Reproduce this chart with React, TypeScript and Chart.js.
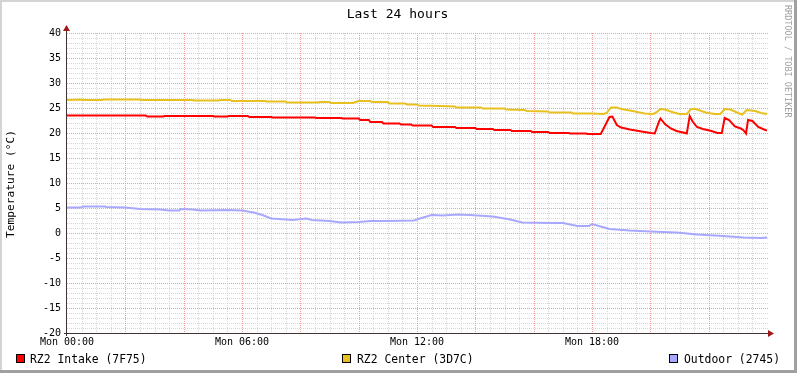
import React, { useEffect, useRef } from 'react';
import { Chart, registerables } from 'chart.js';

Chart.register(...registerables);

const FONT = '"DejaVu Sans Mono", "Liberation Mono", monospace';

const chartTitle = 'Last 24 hours';
const yAxisTitle = 'Temperature (°C)';
const watermark = 'RRDTOOL / TOBI OETIKER';

const seriesLabels = ['RZ2 Intake (7F75)', 'RZ2 Center (3D7C)', 'Outdoor (2745)'];
const seriesColors = ['#FF0000', '#E8C020', '#A8A8FF'];

const xTickLabels = ['Mon 00:00', 'Mon 06:00', 'Mon 12:00', 'Mon 18:00'];
const xLabelEvery = 6; // hours
const xMajorEvery = 2; // hours
const xMinorStep = 0.5; // hours
const yLabelEvery = 5; // °C
const yMinorStep = 1; // °C

// RZ2 Intake (hours since Mon 00:00, °C)
const intakeHours = [0, 2.7, 2.75, 3.3, 3.35, 5.0, 5.05, 5.5, 5.55, 6.2, 6.25, 7.0, 7.05, 8.5, 8.55, 9.4, 9.45, 10.0, 10.05, 10.35, 10.4, 10.8, 10.85, 11.4, 11.45, 11.8, 11.85, 12.5, 12.55, 13.3, 13.35, 14.0, 14.05, 14.6, 14.65, 15.2, 15.25, 15.9, 15.95, 16.5, 16.55, 17.2, 17.25, 17.8, 17.85, 18.3, 18.45, 18.6, 18.7, 18.85, 19.0, 19.3, 19.7, 20.0, 20.15, 20.3, 20.35, 20.5, 20.7, 20.9, 21.2, 21.25, 21.35, 21.45, 21.6, 21.8, 22.1, 22.3, 22.45, 22.55, 22.7, 22.9, 23.1, 23.2, 23.28, 23.35, 23.5, 23.7, 23.9, 24.0];
const intakeTemps = [23.5, 23.5, 23.3, 23.3, 23.4, 23.4, 23.3, 23.3, 23.4, 23.4, 23.2, 23.2, 23.1, 23.1, 23.0, 23.0, 22.9, 22.9, 22.6, 22.6, 22.2, 22.2, 21.9, 21.9, 21.7, 21.7, 21.5, 21.5, 21.2, 21.2, 21.0, 21.0, 20.8, 20.8, 20.6, 20.6, 20.4, 20.4, 20.2, 20.2, 20.0, 20.0, 19.9, 19.9, 19.8, 19.8, 21.5, 23.2, 23.3, 21.6, 21.1, 20.7, 20.3, 20.0, 19.9, 22.3, 22.9, 21.8, 20.9, 20.4, 20.0, 19.9, 23.4, 22.3, 21.2, 20.8, 20.4, 20.0, 20.0, 23.0, 22.6, 21.3, 20.9, 20.5, 19.9, 22.6, 22.4, 21.2, 20.7, 20.5];

// RZ2 Center
const centerHours = [0, 0.5, 0.55, 1.2, 1.25, 2.5, 2.55, 4.3, 4.35, 5.2, 5.25, 5.6, 5.65, 6.8, 6.85, 7.5, 7.55, 8.6, 8.65, 9.0, 9.05, 9.8, 10.0, 10.4, 10.45, 11.0, 11.05, 11.6, 11.65, 12.0, 12.05, 12.8, 13.3, 13.35, 14.2, 14.25, 15.0, 15.05, 15.7, 15.75, 16.5, 16.55, 17.3, 17.35, 18.0, 18.4, 18.5, 18.65, 18.85, 19.0, 19.4, 19.8, 20.1, 20.2, 20.35, 20.5, 20.8, 21.0, 21.25, 21.4, 21.55, 21.9, 22.2, 22.4, 22.55, 22.75, 23.0, 23.15, 23.3, 23.45, 23.6, 23.8, 24.0];
const centerTemps = [26.6, 26.7, 26.6, 26.6, 26.7, 26.7, 26.6, 26.6, 26.5, 26.5, 26.6, 26.6, 26.4, 26.4, 26.3, 26.3, 26.1, 26.1, 26.2, 26.2, 26.0, 26.0, 26.4, 26.4, 26.2, 26.2, 25.9, 25.9, 25.7, 25.7, 25.5, 25.4, 25.3, 25.1, 25.1, 24.9, 24.9, 24.7, 24.6, 24.4, 24.3, 24.1, 24.1, 23.9, 23.9, 23.8, 24.0, 25.1, 25.1, 24.8, 24.4, 23.9, 23.8, 24.1, 24.8, 24.7, 24.1, 23.8, 23.8, 24.8, 24.8, 24.1, 23.8, 23.8, 24.8, 24.7, 24.0, 23.7, 24.6, 24.5, 24.4, 24.0, 23.8];

// Outdoor
const outdoorHours = [0, 0.5, 0.55, 1.3, 1.35, 2.0, 2.5, 3.2, 3.5, 3.85, 3.9, 4.3, 4.6, 5.5, 6.0, 6.4, 6.7, 7.0, 7.75, 8.2, 8.4, 9.0, 9.4, 10.0, 10.4, 11.0, 11.9, 12.1, 12.5, 12.9, 13.4, 13.8, 14.6, 15.2, 15.6, 16.6, 17.0, 17.5, 17.9, 18.0, 18.3, 18.6, 19.3, 20.0, 20.9, 21.6, 22.5, 23.2, 23.8, 24.0];
const outdoorTemps = [5.1, 5.1, 5.3, 5.3, 5.2, 5.1, 4.8, 4.7, 4.5, 4.5, 4.8, 4.7, 4.5, 4.6, 4.5, 4.1, 3.6, 2.9, 2.6, 2.9, 2.6, 2.4, 2.1, 2.2, 2.4, 2.4, 2.5, 2.9, 3.6, 3.5, 3.7, 3.6, 3.3, 2.7, 2.1, 2.0, 2.0, 1.4, 1.4, 1.8, 1.3, 0.8, 0.5, 0.3, 0.1, -0.3, -0.6, -0.9, -1.0, -0.9];

const seriesHours = [intakeHours, centerHours, outdoorHours];
const seriesTemps = [intakeTemps, centerTemps, outdoorTemps];

const MAJOR_GRID = '#F29C9C';
const MINOR_GRID = '#D6D6D6';
const AXIS_COLOR = '#403434';
const ARROW_COLOR = '#A01818';

const near = (v: number, every: number) => Math.abs(v / every - Math.round(v / every)) < 1e-6;

const rrdPlugin = {
  id: 'rrdDecor',
  beforeDraw(chart: any) {
    const { ctx, width, height } = chart;
    ctx.save();
    ctx.fillStyle = '#FFFFFF';
    ctx.fillRect(0, 0, width, height);
    ctx.fillStyle = '#D4D4D4';
    ctx.fillRect(0, 0, width, 2);
    ctx.fillRect(0, 0, 2, height);
    ctx.fillStyle = '#A0A0A0';
    ctx.fillRect(width - 3, 0, 3, height);
    ctx.fillRect(0, height - 3, width, 3);
    ctx.restore();
  },
  beforeDatasetsDraw(chart: any) {
    const { ctx, chartArea, scales } = chart;
    const { left, right, top, bottom } = chartArea;
    const xs = scales.x;
    const ys = scales.y;
    const L = Math.round(left), R = Math.round(right), T = Math.round(top), B = Math.round(bottom);
    ctx.save();
    const drawPass = (major: boolean) => {
      ctx.fillStyle = major ? MAJOR_GRID : MINOR_GRID;
      for (let v = ys.min; v <= ys.max + 1e-9; v += yMinorStep) {
        if (near(v, yLabelEvery) !== major) continue;
        const py = Math.round(ys.getPixelForValue(v));
        if (py >= B) continue;
        for (let x = L; x <= R; x += 2) ctx.fillRect(x, py, 1, 1);
      }
      for (let v = xs.min; v < xs.max - 1e-9; v += xMinorStep) {
        if (near(v, xMajorEvery) !== major) continue;
        const px = Math.round(xs.getPixelForValue(v));
        if (px <= L) continue;
        for (let y = B; y >= T; y -= 2) ctx.fillRect(px, y, 1, 1);
      }
    };
    drawPass(false);
    drawPass(true);
    ctx.restore();
  },
  afterDraw(chart: any) {
    const { ctx, chartArea } = chart;
    const { left, right, top, bottom } = chartArea;
    ctx.save();
    ctx.fillStyle = AXIS_COLOR;
    ctx.fillRect(Math.round(left) - 1, top - 4, 1, bottom - top + 7);
    ctx.fillRect(left - 3, Math.round(bottom), right - left + 5, 1);
    ctx.fillStyle = ARROW_COLOR;
    ctx.beginPath();
    ctx.moveTo(right + 1, bottom - 3);
    ctx.lineTo(right + 7, bottom + 0.5);
    ctx.lineTo(right + 1, bottom + 4);
    ctx.closePath();
    ctx.fill();
    ctx.beginPath();
    ctx.moveTo(left - 4, top - 2);
    ctx.lineTo(left - 0.5, top - 8);
    ctx.lineTo(left + 3, top - 2);
    ctx.closePath();
    ctx.fill();

    ctx.fillStyle = '#000000';
    ctx.font = `13px ${FONT}`;
    ctx.textAlign = 'center';
    ctx.textBaseline = 'alphabetic';
    ctx.fillText(chartTitle, 397.5, 18);

    ctx.save();
    ctx.translate(14, 184);
    ctx.rotate(-Math.PI / 2);
    ctx.font = `11.2px ${FONT}`;
    ctx.textAlign = 'center';
    ctx.fillText(yAxisTitle, 0, 0);
    ctx.restore();

    ctx.save();
    ctx.translate(785, 5);
    ctx.rotate(Math.PI / 2);
    ctx.font = `8.5px ${FONT}`;
    ctx.fillStyle = '#A0A0A0';
    ctx.textAlign = 'left';
    ctx.fillText(watermark, 0, 0);
    ctx.restore();

    const boxX = [16, 342, 669];
    const textX = [30, 357, 684];
    ctx.font = `11.4px ${FONT}`;
    ctx.textAlign = 'left';
    chart.data.datasets.forEach((ds: any, i: number) => {
      ctx.fillStyle = ds.borderColor;
      ctx.fillRect(boxX[i], 354, 9, 9);
      ctx.strokeStyle = '#000000';
      ctx.lineWidth = 1;
      ctx.strokeRect(boxX[i] + 0.5, 354.5, 8, 8);
      ctx.fillStyle = '#000000';
      ctx.fillText(ds.label, textX[i], 363);
    });
    ctx.restore();
  },
};

export default function App() {
  const canvasRef = useRef<HTMLCanvasElement | null>(null);

  useEffect(() => {
    if (!canvasRef.current) return;
    const datasets = seriesLabels.map((label, i) => ({
      label,
      data: seriesHours[i].map((h, j) => ({ x: h, y: seriesTemps[i][j] })),
      borderColor: seriesColors[i],
      backgroundColor: seriesColors[i],
      borderWidth: 2,
      pointRadius: 0,
      fill: false,
      tension: 0,
    }));

    const chart = new Chart(canvasRef.current, {
      type: 'line',
      data: { datasets },
      options: {
        responsive: false,
        animation: false,
        devicePixelRatio: 1,
        layout: { padding: { left: 0, right: 30, top: 33, bottom: 0 } },
        plugins: {
          legend: { display: false },
          title: { display: false },
          tooltip: { enabled: false },
        },
        scales: {
          x: {
            type: 'linear',
            min: 0,
            max: 24,
            afterFit: (s: any) => { s.height = 40; },
            ticks: {
              stepSize: xLabelEvery,
              autoSkip: false,
              maxRotation: 0,
              minRotation: 0,
              padding: 3,
              color: '#000000',
              font: { family: FONT, size: 10 },
              callback: (v: any) => {
                const n = Number(v);
                if (n >= 24) return '';
                return xTickLabels[Math.round(n / xLabelEvery)];
              },
            },
            grid: { display: false, drawTicks: false },
            border: { display: false },
          },
          y: {
            type: 'linear',
            min: -20,
            max: 40,
            afterFit: (s: any) => { s.width = 67; },
            ticks: {
              stepSize: yLabelEvery,
              autoSkip: false,
              padding: 6,
              color: '#000000',
              font: { family: FONT, size: 10 },
              callback: (v: any) => String(Number(v)),
            },
            grid: { display: false, drawTicks: false },
            border: { display: false },
          },
        },
      },
      plugins: [rrdPlugin],
    } as any);

    return () => chart.destroy();
  }, []);

  return (
    <div style={{ position: 'absolute', left: 0, top: 0, width: 797, height: 373 }}>
      <canvas ref={canvasRef} width={797} height={373} style={{ display: 'block' }} />
    </div>
  );
}
